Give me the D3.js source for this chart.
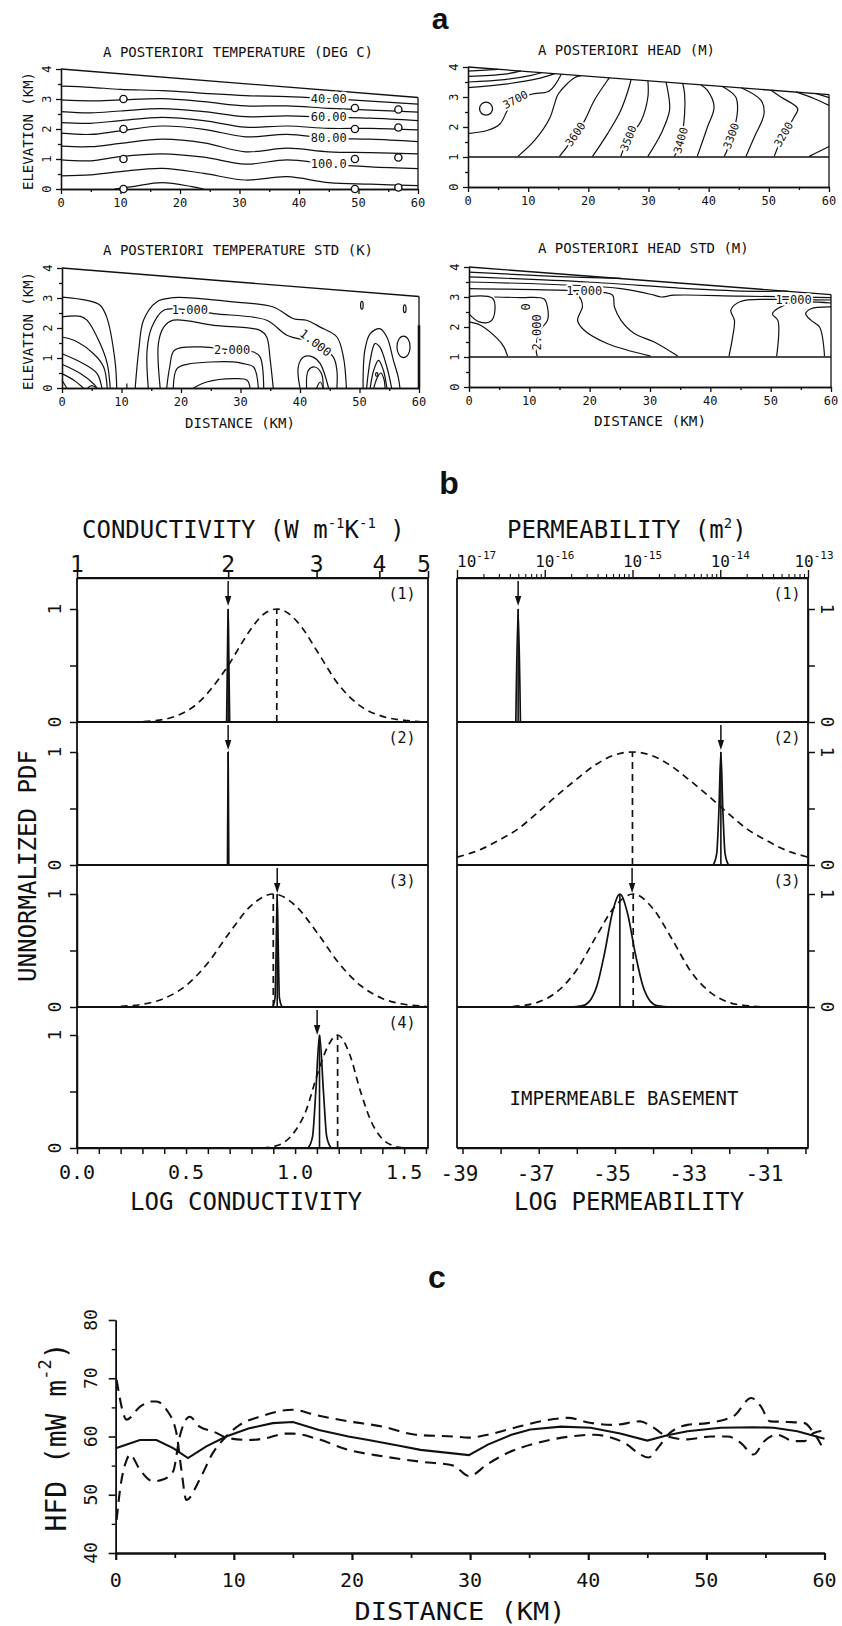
<!DOCTYPE html>
<html><head><meta charset="utf-8">
<script src="https://cdn.jsdelivr.net/npm/d3@7"></script>
<style>
body{margin:0;background:#fff;}
svg{display:block;background:#fff;}
text{font-family:"DejaVu Sans Mono",monospace;fill:#111;}
</style></head>
<body><svg id="c" width="842" height="1626"></svg>
<script>
// ================= DATA =================
// ---- panel a : common ----
const distTicks=[0,10,20,30,40,50,60];
const distMinor=[5,15,25,35,45,55];
const elevTicks=[0,1,2,3,4];
const elevMinor=[0.5,1.5,2.5,3.5];
const surfTemp=[[0,4.0],[60,3.05]];
const surfHead=[[0,4.0],[60,3.08]];

// ---- a1 : temperature contours (elevation km at each distance) ----
const tempXs=[0,5,10,17,24,31,38,45,52,60];
const tempLevels=[40,50,60,70,80,90,100,110];
const tempElev=[
 [3.43,3.39,3.32,3.28,3.19,3.11,3.08,3.01,2.93,2.83],
 [2.97,2.94,2.97,3.01,2.91,2.77,2.77,2.69,2.63,2.56],
 [2.58,2.54,2.60,2.68,2.58,2.41,2.44,2.39,2.36,2.28],
 [2.21,2.19,2.28,2.39,2.28,2.06,2.10,2.02,2.02,1.97],
 [1.86,1.82,1.94,2.10,1.99,1.74,1.82,1.69,1.66,1.58],
 [1.43,1.41,1.52,1.66,1.54,1.24,1.36,1.24,1.21,1.17],
 [0.97,0.94,1.08,1.17,1.06,0.83,0.97,0.83,0.74,0.68],
 [0.44,0.47,0.58,0.69,0.52,0.30,0.41,0.21,0.16,0.11]
];
const tempBump=[[9,0],[12,0.08],[17,0.21],[22,0.08],[24,0]];
const tempLabelText=["40.00","60.00","80.00","100.0"];
const tempLabelLevel=[0,2,4,6];
const tempLabelX=45;
const obsX=[10.5,49.4,56.7];
const obsZ=[[3,2,1,0],[2.7,2.0,1.0,0],[2.65,2.05,1.05,0.05]];

// ---- a2 : head contours ----
const headContours=[
 [[0,1.78],[3.3,1.89],[5.3,2.1],[6.4,2.5],[7.2,2.8],[10.5,3.09],[13.5,3.2],[15.5,3.76]],
 [[8.3,1.02],[11.1,1.56],[13.6,2.3],[14.4,2.78],[15.0,3.1],[17.7,3.64],[18.8,3.71]],
 [[15.2,1.02],[17.7,1.67],[19.4,2.22],[21.0,2.89],[23.2,3.56],[23.5,3.64]],
 [[20.7,1.02],[23.2,1.78],[25.4,2.56],[26.8,3.35],[27.1,3.59]],
 [[25.4,1.02],[26.5,1.56],[28.8,2.22],[29.9,3.0],[29.9,3.54]],
 [[29.9,1.02],[32.1,1.78],[33.5,2.56],[33.2,3.22],[32.9,3.5]],
 [[34.3,1.02],[35.4,1.56],[36.0,2.44],[36.0,3.11],[35.7,3.45]],
 [[38.1,1.02],[39.8,2.0],[40.9,2.67],[39.8,3.22],[38.7,3.41]],
 [[42.6,1.02],[43.7,1.56],[44.8,2.56],[44.5,3.0],[42.3,3.35]],
 [[46.2,1.02],[47.6,1.67],[49.2,2.44],[48.7,2.89],[45.4,3.31]],
 [[50.9,1.02],[52.0,1.56],[54.2,2.33],[54.8,2.61],[52.0,3.0],[50.3,3.23]],
 [[54.5,3.17],[57.5,2.95],[60,2.72]],
 [[57.8,3.12],[60,2.98]],
 [[56.7,1.02],[58.5,1.2],[60,1.35]],
 [[0,3.86],[5.0,3.92]],
 [[0,3.69],[6.1,3.76],[8.8,3.87]],
 [[0,3.5],[6.1,3.58],[10.5,3.72],[12.2,3.81]],
 [[0,3.31],[6.6,3.44],[11.6,3.61],[14.4,3.78]]
];
const headLabels=[
 {t:"3700",x:7.9,y:2.9,r:-28},{t:"3600",x:17.9,y:1.75,r:-55},
 {t:"3500",x:26.7,y:1.62,r:-68},{t:"3400",x:35.4,y:1.55,r:-74},
 {t:"3300",x:43.8,y:1.7,r:-70},{t:"3200",x:52.5,y:1.75,r:-60}
];
const headCircle=[3.0,2.61];

// ---- a3 : temperature std contours ----
const tstdContours=[
 [[0,3.03],[4.2,2.92],[6.4,2.76],[7.5,2.37],[8.9,0.92],[9.2,0]],
 [[0,2.37],[3.1,2.39],[4.2,2.26],[6.4,1.48],[7.6,0.81],[8.1,0]],
 [[0,1.7],[2,1.59],[5.3,1.14],[7,0.7],[7.6,0]],
 [[0,1.14],[3.6,0.81],[5.9,0.48],[6.7,0]],
 [[0,0.79],[3.1,0.48],[5.3,0.14],[5.9,0]],
 [[0,0.48],[2,0.26],[3.6,0]],
 [[0,0.26],[0.8,0]],
 [[4.3,0],[5,0.08],[5.8,0]],
 [[10.9,0],[10.9,0.15]],
 [[12.3,0],[12.9,1.26],[13.7,2.26],[15.9,2.87],[18.7,3.01],[23.2,2.98],[28.8,2.87],[35.5,2.7],[38.9,2.31],[41.1,2.26],[43.4,2.03],[46.2,1.7],[47.3,1.03],[47.8,0]],
 [[14.5,0],[14.3,1.26],[15.1,2.03],[17.1,2.59],[21.5,2.6],[25.5,2.48],[34.4,2.26],[37.8,1.76],[42.8,1.48],[45.6,1.03],[46.2,0.59],[46.2,0]],
 [[16.5,0],[16.2,1.48],[17.1,2.03],[18.7,2.26],[25.5,2.09],[33.3,1.92],[34.4,1.7],[35,0.92],[35.5,0]],
 [[17.6,0],[18.1,0.7],[18.9,1.26],[23.2,1.37],[28.8,1.26],[32.2,1.2],[33.3,1.03],[33.9,0]],
 [[18.7,0],[19.3,0.64],[21,0.79],[28.8,0.87],[30.5,0.81],[32.2,0.7],[33,0]],
 [[22.1,0],[24.3,0.2],[28.8,0.31],[31.1,0.26],[31.6,0]],
 [[40,0],[39.7,0.7],[40.6,1.03],[42.2,1.03],[43.4,0.81],[44.8,0]],
 [[41.1,0],[41.4,0.59],[42.5,0.7],[43.6,0.48],[43.9,0]],
 [[42.8,0],[43.4,0.2],[43.9,0]],
 [[50.6,0],[50.9,1.26],[51.8,1.81],[53.4,1.98],[54.6,1.7],[55.7,0.92],[56.5,0.37],[56.8,0]],
 [[51.2,0],[51.8,0.92],[52.6,1.48],[53.4,1.37],[54.6,0.7],[55.4,0]],
 [[51.8,0],[52.4,0.6],[53.2,0.92],[54,0.6],[54.6,0]],
 [[52.4,0],[53,0.35],[53.6,0.5],[54.1,0.3],[54.3,0]]
];
const tstdLoops=[
 {x:57.4,y:1.37,rx:1.1,ry:0.36},{x:50.4,y:2.76,rx:0.22,ry:0.13},
 {x:57.6,y:2.64,rx:0.22,ry:0.13},{x:52.9,y:0.45,rx:0.2,ry:0.06}
];
const tstdLabels=[
 {t:"1.000",x:21.5,y:2.6,r:0},{t:"1.000",x:42.6,y:1.5,r:38},{t:"2.000",x:28.6,y:1.27,r:0}
];

// ---- a4 : head std contours ----
const hstdContours=[
 [[0,3.83],[14.1,3.69],[25.2,3.62]],
 [[0,3.67],[19.6,3.5],[36.2,3.28],[47.3,3.19],[52.8,3.2]],
 [[0,3.5],[25.2,3.28],[30.7,3.06],[31.8,3.0],[34,3.06],[45,3.03],[60,2.98]],
 [[0,3.28],[16.3,3.22],[21.5,3.17],[23.8,3.06],[24.1,2.67],[25.2,2.22],[27.4,1.78],[30.7,1.5],[34.6,1.03]],
 [[0,3.02],[3.9,2.96],[4.3,2.56],[3.6,2.19],[1.7,2.17],[0,2.44]],
 [[4.2,3.0],[8.6,2.98],[12.4,2.94],[13.0,2.67],[13.0,2.22],[11.8,1.9],[11.1,1.33],[11.3,1.03]],
 [[0,2.17],[1.9,2.06],[4.7,1.61],[5.8,1.33],[6.4,1.03]],
 [[17.5,3.2],[18.6,2.9],[18.8,2.67],[18,2.22],[19.1,1.89],[23,1.44],[30.1,1.03]],
 [[60,2.9],[56,2.91],[50,2.92],[45,2.85],[43.4,2.56],[44,2.22],[43.7,1.67],[43.1,1.03]],
 [[60,2.8],[53,2.78],[50.3,2.44],[51.2,2.22],[51,1.03]],
 [[60,2.67],[56.7,2.61],[55.8,2.44],[56.7,2.22],[58.1,2.0],[58.9,1.11],[58.9,1.03]]
];
const hstdLabels=[
 {t:"1.000",x:19.1,y:3.21,r:0},{t:"1.000",x:53.8,y:2.91,r:0},
 {t:"0",x:9.4,y:2.67,r:-90},{t:"2.000",x:11.3,y:1.82,r:-90}
];

// ---- panel b ----
const condTopTicks=[1,2,3,4,5];
const permTopDecades=[1e-17,1e-16,1e-15,1e-14,1e-13];
const permTopExp=["-17","-16","-15","-14","-13"];
const logCondLabels=[0,0.5,1.0,1.5];
const logPermLabels=[-39,-37,-35,-33,-31];
const bandTags=["(1)","(2)","(3)","(4)"];

const condPrior1=[[0.25,0],[0.35,0.01],[0.45,0.05],[0.55,0.16],[0.65,0.38],[0.7,0.52],[0.75,0.68],[0.8,0.83],[0.86,0.96],[0.916,1.0],[0.97,0.96],[1.03,0.84],[1.1,0.63],[1.2,0.33],[1.3,0.14],[1.4,0.05],[1.5,0.015],[1.6,0]];
const condPost1=[[0.686,0],[0.690,0.6],[0.693,1],[0.696,0.6],[0.700,0]];
const condPost2=[[0.690,0],[0.693,1],[0.696,0]];
const condPrior3=[[0.2,0.006],[0.3,0.024],[0.4,0.076],[0.5,0.19],[0.6,0.39],[0.7,0.66],[0.8,0.9],[0.9,1],[1.0,0.9],[1.1,0.66],[1.2,0.39],[1.3,0.19],[1.4,0.076],[1.5,0.024],[1.6,0.006]];
const condPost3=[[0.898,0],[0.908,0.08],[0.913,0.5],[0.918,1],[0.923,0.5],[0.928,0.08],[0.94,0]];
const condPrior4=[[0.85,0],[0.9,0.012],[0.95,0.05],[1.0,0.15],[1.05,0.33],[1.1,0.64],[1.15,0.9],[1.195,1],[1.25,0.83],[1.3,0.5],[1.35,0.23],[1.4,0.08],[1.45,0.02],[1.5,0]];
const condPost4=[[1.06,0],[1.08,0.1],[1.095,0.5],[1.112,1.0],[1.13,0.5],[1.145,0.1],[1.165,0]];
const condPriors=[condPrior1,null,condPrior3,condPrior4];
const condPosts=[condPost1,condPost2,condPost3,condPost4];
const condTruth=[0.693,0.693,0.918,1.101];
const condPriorMean=[0.916,null,0.9,1.195];
const condPostMean=[0.693,0.693,0.918,1.112];

const permPost1=[[-37.6,0],[-37.54,1],[-37.48,0]];
const permPrior2=[[-39.14,0.07],[-38.54,0.135],[-38.04,0.22],[-37.54,0.32],[-37.04,0.46],[-36.54,0.61],[-36.04,0.75],[-35.54,0.88],[-35.04,0.97],[-34.54,1],[-34.04,0.97],[-33.54,0.88],[-33.04,0.75],[-32.54,0.61],[-32.04,0.46],[-31.54,0.32],[-31.04,0.22],[-30.54,0.135],[-29.94,0.07]];
const permPost2=[[-32.42,0],[-32.33,0.1],[-32.27,0.5],[-32.22,1],[-32.17,0.5],[-32.11,0.1],[-32.02,0]];
const permPrior3=[[-38,0],[-37.5,0.01],[-37,0.045],[-36.5,0.14],[-36,0.33],[-35.5,0.62],[-35,0.89],[-34.52,1.0],[-34,0.87],[-33.5,0.6],[-33,0.31],[-32.5,0.13],[-32,0.04],[-31.5,0.01],[-31,0]];
const permPost3=[[-36.2,0],[-35.87,0.01],[-35.67,0.05],[-35.47,0.19],[-35.27,0.48],[-35.07,0.83],[-34.87,1],[-34.67,0.83],[-34.47,0.48],[-34.27,0.19],[-34.07,0.05],[-33.87,0.01],[-33.5,0]];
const permPriors=[null,permPrior2,permPrior3,null];
const permPosts=[permPost1,permPost2,permPost3,null];
const permTruth=[-37.54,-32.22,-34.55,null];
const permPriorMean=[null,-34.54,-34.52,null];
const permPostMean=[-37.54,-32.22,-34.87,null];

// ---- panel c : heat flow density ----
const hfdTicks=[40,50,60,70,80];
const hfdMinor=[45,55,65,75];
const hfdMeanX=[0,2.05,3.45,4.86,6.12,7.67,9.35,11.3,13.3,15.0,17.2,19.7,21.4,24.0,25.8,29.9,31.5,33.5,35.1,37.7,40.2,42.7,45.0,46.7,48.4,51.2,54.0,55.7,57.7,60.0];
const hfdMean =[58.0,59.4,59.4,58.0,56.3,58.3,60.0,61.4,62.3,62.5,61.1,60.0,59.4,58.4,57.7,56.8,58.6,60.3,61.2,61.7,61.5,60.5,59.3,60.2,60.9,61.5,61.6,61.5,60.9,59.6];
const hfdAX=[0.08,0.93,2.05,3.0,3.45,4.3,5.14,5.56,5.98,7.1,8.2,9.35,10.5,12.2,15.0,16.9,19.7,22.6,25.4,28.6,29.9,31.5,34.3,37.1,38.3,40.0,42.2,44.4,45.3,46.7,48.4,50.4,51.8,52.9,54.0,54.9,56.0,57.4,58.3,59.1,60.0];
const hfdA =[69.7,62.9,65.1,66.0,66.0,64.6,60.6,54.3,49.1,52.6,57.1,60.0,62.0,63.4,64.6,63.7,62.6,61.7,60.3,60.0,59.8,60.3,61.8,63.0,63.2,62.4,62.0,62.6,61.8,60.0,59.5,60.0,60.0,58.9,56.9,59.2,60.3,59.2,59.2,60.6,61.0];
const hfdBX=[0.08,0.37,0.93,1.2,2.05,3.17,4.0,4.86,5.42,6.26,7.1,8.2,9.6,11.3,12.7,14.4,15.0,16.9,19.7,22.6,25.7,28.6,29.9,31.5,33.2,35.7,38.5,40.5,41.6,43.3,44.2,45.1,46.0,46.7,48.4,50.1,52.3,53.8,54.6,55.4,56.9,58.3,59.1,60.0];
const hfdB =[45.7,50.9,56.0,56.9,54.3,52.3,52.6,54.0,60.0,63.4,61.7,60.9,59.7,59.4,59.7,60.5,60.5,59.7,57.7,56.6,55.7,55.0,53.2,55.3,57.2,58.9,60.0,60.3,60.0,58.6,57.2,56.4,58.3,60.2,62.0,62.3,63.5,66.6,65.2,62.6,62.5,62.3,60.6,57.5];

// ================= DRAWING =================
const ink="#111";
const svg=d3.select("#c");
svg.append("rect").attr("width",842).attr("height",1626).attr("fill","#fff");

function label(g,x,y,s,o={}){
  const t=g.append("text").attr("x",x).attr("y",y).text(s)
    .attr("font-size",o.size||14).attr("text-anchor",o.anchor||"middle");
  if(o.db) t.attr("dominant-baseline",o.db);
  if(o.rot) t.attr("transform",`rotate(${o.rot},${x},${y})`);
  if(o.len) t.attr("textLength",o.len).attr("lengthAdjust","spacingAndGlyphs");
  if(o.weight) t.attr("font-weight",o.weight);
  if(o.family) t.style("font-family",o.family);
  if(o.halo) t.attr("stroke","#fff").attr("stroke-width",o.halo).attr("paint-order","stroke").attr("stroke-linejoin","round");
  return t;
}
function styleAxis(sel,w){ sel.selectAll(".domain,.tick line").attr("stroke",ink).attr("stroke-width",w||1.3); sel.selectAll("text").remove(); }

// ---------- panel a ----------
function elevFrame(box,surf,withBase){
  const sx=d3.scaleLinear([0,60],[box.l,box.r]);
  const sy=d3.scaleLinear([0,4],[box.b,box.t]);
  const g=svg.append("g");
  const a1=g.append("g").attr("transform",`translate(0,${box.b})`).call(d3.axisBottom(sx).tickValues(distTicks).tickSize(5).tickSizeOuter(0));
  const a2=g.append("g").attr("transform",`translate(0,${box.b})`).call(d3.axisBottom(sx).tickValues(distMinor).tickSize(3).tickSizeOuter(0));
  const a3=g.append("g").attr("transform",`translate(${box.l},0)`).call(d3.axisLeft(sy).tickValues(elevTicks).tickSize(5).tickSizeOuter(0));
  const a4=g.append("g").attr("transform",`translate(${box.l},0)`).call(d3.axisLeft(sy).tickValues(elevMinor).tickSize(3).tickSizeOuter(0));
  [a1,a2,a3,a4].forEach(a=>styleAxis(a,1.3));
  distTicks.forEach(v=>label(g,sx(v),box.b+18,String(v),{size:12}));
  elevTicks.forEach(v=>label(g,box.l-14,sy(v),String(v),{size:12,rot:-90,db:"central"}));
  const ln=d3.line().x(d=>sx(d[0])).y(d=>sy(d[1]));
  g.append("path").datum(surf).attr("d",ln).attr("fill","none").attr("stroke",ink).attr("stroke-width",1.3);
  g.append("line").attr("x1",sx(60)).attr("x2",sx(60)).attr("y1",sy(0)).attr("y2",sy(surf[1][1])).attr("stroke",ink).attr("stroke-width",1.3);
  if(withBase) g.append("line").attr("x1",sx(0)).attr("x2",sx(60)).attr("y1",sy(1)).attr("y2",sy(1)).attr("stroke",ink).attr("stroke-width",1.3);
  return {g,sx,sy};
}
function contourLines(P,lines){
  const ln=d3.line().x(d=>P.sx(d[0])).y(d=>P.sy(d[1])).curve(d3.curveCatmullRom.alpha(0.5));
  P.g.append("g").selectAll("path").data(lines).join("path").attr("d",ln)
    .attr("fill","none").attr("stroke",ink).attr("stroke-width",1.2);
}
function contourLabels(P,labs,size){
  labs.forEach(L=>label(P.g,P.sx(L.x),P.sy(L.y),L.t,{size:size||11,rot:L.r,db:"central",halo:4}));
}

// a1 temperature
const A1=elevFrame({l:61,r:418,b:189,t:69},surfTemp,false);
contourLines(A1,tempElev.map(row=>row.map((z,j)=>[tempXs[j],z])));
contourLines(A1,[tempBump]);
tempLabelText.forEach((t,i)=>{
  const lev=tempLabelLevel[i], j=tempXs.indexOf(tempLabelX);
  label(A1.g,A1.sx(tempLabelX),A1.sy(tempElev[lev][j]),t,{size:12,db:"central",halo:5});
});
obsX.forEach((x,i)=>obsZ[i].forEach(z=>{
  A1.g.append("circle").attr("cx",A1.sx(x)).attr("cy",A1.sy(z)).attr("r",3.6)
   .attr("fill","#fff").attr("stroke",ink).attr("stroke-width",1.4);
}));
label(svg,103,57,"A POSTERIORI TEMPERATURE (DEG C)",{size:14,anchor:"start",len:270});
label(svg,28,131,"ELEVATION (KM)",{size:14,rot:-90,db:"central",len:118});

// a2 head
const A2=elevFrame({l:468,r:829,b:187,t:67},surfHead,true);
contourLines(A2,headContours);
A2.g.append("circle").attr("cx",A2.sx(headCircle[0])).attr("cy",A2.sy(headCircle[1])).attr("r",6.5)
  .attr("fill","none").attr("stroke",ink).attr("stroke-width",1.3);
contourLabels(A2,headLabels,11);
label(svg,538,55,"A POSTERIORI HEAD (M)",{size:14,anchor:"start"});

// a3 temperature std
const A3=elevFrame({l:62,r:419,b:388,t:268},surfTemp,false);
contourLines(A3,tstdContours);
tstdLoops.forEach(o=>A3.g.append("ellipse").attr("cx",A3.sx(o.x)).attr("cy",A3.sy(o.y))
  .attr("rx",A3.sx(o.rx)-A3.sx(0)).attr("ry",A3.sy(0)-A3.sy(o.ry))
  .attr("fill","none").attr("stroke",ink).attr("stroke-width",1.2));
A3.g.append("line").attr("x1",A3.sx(60)).attr("x2",A3.sx(60)).attr("y1",A3.sy(0)).attr("y2",A3.sy(2.09)).attr("stroke",ink).attr("stroke-width",2.6);
contourLabels(A3,tstdLabels,12);
label(svg,103,255,"A POSTERIORI TEMPERATURE STD (K)",{size:14,anchor:"start",len:270});
label(svg,28,331,"ELEVATION (KM)",{size:14,rot:-90,db:"central",len:118});
label(svg,240,428,"DISTANCE (KM)",{size:14,len:110});

// a4 head std
const A4=elevFrame({l:469,r:831,b:387,t:267},surfHead,true);
contourLines(A4,hstdContours);
contourLabels(A4,hstdLabels,12);
label(svg,538,253,"A POSTERIORI HEAD STD (M)",{size:14,anchor:"start"});
label(svg,650,426,"DISTANCE (KM)",{size:14,len:112});

label(svg,440,18,"a",{size:30,weight:"bold",db:"central",family:"'Liberation Sans',Arial,sans-serif"});

// ---------- panel b ----------
label(svg,449,483,"b",{size:32,weight:"bold",db:"central",family:"'Liberation Sans',Arial,sans-serif"});
const bandTop=[578,722,865,1007], bandBot=[722,865,1007,1148];
const unitPx=113;
const cx=d3.scaleLinear([0,1.6094],[77,428]);
const cTop=d3.scaleLog([1,5],[77,428]);
const px=d3.scaleLinear([-39.144,-29.934],[457,808]);
const pTop=d3.scaleLog([1e-17,1e-13],[457,808]);
const B=svg.append("g");

function vline(g,x,y1,y2,w){g.append("line").attr("x1",x).attr("x2",x).attr("y1",y1).attr("y2",y2).attr("stroke",ink).attr("stroke-width",w||1.6);}
function hline(g,x1,x2,y,w){g.append("line").attr("x1",x1).attr("x2",x2).attr("y1",y).attr("y2",y).attr("stroke",ink).attr("stroke-width",w||1.6);}

// frames
[[77,428],[457,808]].forEach(([l,r])=>{
  vline(B,l,578,1148,1.8); vline(B,r,578,1148,1.8);
  hline(B,l,r,578,1.8);
  bandBot.forEach(y=>hline(B,l,r,y,1.8));
});
// top axes
const tc=B.append("g").attr("transform","translate(0,578)").call(d3.axisTop(cTop).tickValues(condTopTicks).tickSize(7).tickSizeOuter(0));
styleAxis(tc,1.6);
condTopTicks.forEach(v=>label(B,cTop(v)-(v===5?4:0),572,String(v),{size:23}));
const permMinor=[];
[1e-17,1e-16,1e-15,1e-14].forEach(d=>[2,3,4,5,6,7,8,9].forEach(m=>permMinor.push(m*d)));
const tp1=B.append("g").attr("transform","translate(0,578)").call(d3.axisTop(pTop).tickValues(permTopDecades).tickSize(8).tickSizeOuter(0));
const tp2=B.append("g").attr("transform","translate(0,578)").call(d3.axisTop(pTop).tickValues(permMinor).tickSize(4).tickSizeOuter(0));
styleAxis(tp1,1.4); styleAxis(tp2,1.1);
// "10" centred on the tick, except the two end labels kept inside the frame
const permLabelShift=[9.6,0,0,0,-4];
permTopDecades.forEach((v,i)=>{
  const t=B.append("text").attr("x",pTop(v)-9.6+permLabelShift[i]).attr("y",567).attr("text-anchor","start").attr("font-size",16);
  t.append("tspan").text("10");
  t.append("tspan").attr("dy",-8).attr("font-size",11).text(permTopExp[i]);
});
// bottom axes
const bc=B.append("g").attr("transform","translate(0,1148)").call(d3.axisBottom(cx).tickValues(d3.range(0,1.65,0.1)).tickSize(6).tickSizeOuter(0));
styleAxis(bc,1.5);
logCondLabels.forEach(v=>label(B,cx(v),1179,v.toFixed(1),{size:20}));
const bp=B.append("g").attr("transform","translate(0,1148)").call(d3.axisBottom(px).tickValues(d3.range(-39,-29,1)).tickSize(6).tickSizeOuter(0));
styleAxis(bp,1.5);
logPermLabels.forEach(v=>label(B,px(v)-3,1181,String(v),{size:21}));
label(B,246,1210,"LOG CONDUCTIVITY",{size:24,len:232});
label(B,629,1210,"LOG PERMEABILITY",{size:24,len:230});
label(B,28,866,"UNNORMALIZED PDF",{size:24,rot:-90,db:"central",len:232});
// titles
{
  const t=B.append("text").attr("x",82).attr("y",538).attr("font-size",24);
  t.append("tspan").text("CONDUCTIVITY (W  m");
  t.append("tspan").attr("dy",-10).attr("font-size",14).text("-1");
  t.append("tspan").attr("dy",10).text("K");
  t.append("tspan").attr("dy",-10).attr("font-size",14).text("-1");
  t.append("tspan").attr("dy",10).text(" )");
  const u=B.append("text").attr("x",507).attr("y",538).attr("font-size",24);
  u.append("tspan").text("PERMEABILITY (m");
  u.append("tspan").attr("dy",-10).attr("font-size",14).text("2");
  u.append("tspan").attr("dy",10).text(")");
}
// bands
const dashed="7,5";
function arrow(g,x,top){
  vline(g,x,top+3,top+22,1.5);
  g.append("path").attr("d",`M${x-3.2},${top+18} L${x+3.2},${top+18} L${x},${top+28} Z`).attr("fill",ink);
}
for(let i=0;i<4;i++){
  const sy=d3.scaleLinear([0,1],[bandBot[i],bandBot[i]-unitPx]);
  const ly=B.append("g").attr("transform","translate(77,0)").call(d3.axisLeft(sy).tickValues([0,0.5,1]).tickSize(7).tickSizeOuter(0));
  styleAxis(ly,1.5);
  label(B,54,sy(1),"1",{size:18,rot:-90,db:"central"});
  label(B,54,sy(0),"0",{size:18,rot:-90,db:"central"});
  label(B,402,bandTop[i]+21,bandTags[i],{size:15});
  const lc=d3.line().x(d=>cx(d[0])).y(d=>sy(d[1])).curve(d3.curveMonotoneX);
  if(condPriors[i]){
    B.append("path").datum(condPriors[i]).attr("d",lc).attr("fill","none").attr("stroke",ink).attr("stroke-width",1.7).attr("stroke-dasharray",dashed);
    B.append("line").attr("x1",cx(condPriorMean[i])).attr("x2",cx(condPriorMean[i])).attr("y1",sy(0)).attr("y2",sy(1))
      .attr("stroke",ink).attr("stroke-width",1.7).attr("stroke-dasharray",dashed);
  }
  B.append("path").datum(condPosts[i]).attr("d",lc).attr("fill","none").attr("stroke",ink).attr("stroke-width",1.7);
  vline(B,cx(condPostMean[i]),sy(0),sy(1),1.6);
  arrow(B,cx(condTruth[i]),bandTop[i]);
  if(i<3){
    const ry=B.append("g").attr("transform","translate(808,0)").call(d3.axisRight(sy).tickValues([0,0.5,1]).tickSize(7).tickSizeOuter(0));
    styleAxis(ry,1.5);
    label(B,827,sy(1),"1",{size:18,rot:90,db:"central"});
    label(B,827,sy(0),"0",{size:18,rot:90,db:"central"});
    label(B,787,bandTop[i]+21,bandTags[i],{size:15});
    const lp=d3.line().x(d=>px(d[0])).y(d=>sy(d[1])).curve(d3.curveMonotoneX);
    if(permPriors[i]){
      B.append("path").datum(permPriors[i]).attr("d",lp).attr("fill","none").attr("stroke",ink).attr("stroke-width",1.7).attr("stroke-dasharray",dashed);
      B.append("line").attr("x1",px(permPriorMean[i])).attr("x2",px(permPriorMean[i])).attr("y1",sy(0)).attr("y2",sy(1))
        .attr("stroke",ink).attr("stroke-width",1.7).attr("stroke-dasharray",dashed);
    }
    B.append("path").datum(permPosts[i]).attr("d",lp).attr("fill","none").attr("stroke",ink).attr("stroke-width",1.7);
    vline(B,px(permPostMean[i]),sy(0),sy(1),1.6);
    arrow(B,px(permTruth[i]),bandTop[i]);
  }
}
label(B,624,1105,"IMPERMEABLE BASEMENT",{size:19,len:229});

// ---------- panel c ----------
label(svg,437,1277,"c",{size:32,weight:"bold",db:"central",family:"'Liberation Sans',Arial,sans-serif"});
const C=svg.append("g");
const hx=d3.scaleLinear([0,60],[115.7,824.5]);
const hy=d3.scaleLinear([40,80],[1553,1320]);
const cxA=C.append("g").attr("transform","translate(0,1553)").call(d3.axisBottom(hx).tickValues(distTicks).tickSize(7).tickSizeOuter(0));
const cxB=C.append("g").attr("transform","translate(0,1553)").call(d3.axisBottom(hx).tickValues(distMinor).tickSize(5).tickSizeOuter(0));
const cyA=C.append("g").attr("transform","translate(115.7,0)").call(d3.axisLeft(hy).tickValues(hfdTicks).tickSize(7).tickSizeOuter(0));
const cyB=C.append("g").attr("transform","translate(115.7,0)").call(d3.axisLeft(hy).tickValues(hfdMinor).tickSize(4).tickSizeOuter(0));
styleAxis(cxA,2.2); styleAxis(cxB,1.8); styleAxis(cyA,1.6); styleAxis(cyB,1.4);
distTicks.forEach(v=>label(C,hx(v),1587,String(v),{size:20}));
hfdTicks.forEach(v=>label(C,90,hy(v),String(v),{size:18,rot:-90,db:"central"}));
label(C,460,1620,"DISTANCE (KM)",{size:24,len:211});
{
  const t=C.append("text").attr("x",56).attr("y",1437).attr("font-size",28).attr("text-anchor","middle")
    .attr("dominant-baseline","central").attr("transform","rotate(-90,56,1437)");
  t.append("tspan").text("HFD (mW m");
  t.append("tspan").attr("dy",-11).attr("font-size",17).text("-2");
  t.append("tspan").attr("dy",11).text(")");
}
const hl=d3.line().x(d=>hx(d[0])).y(d=>hy(d[1]));
C.append("path").datum(hfdMeanX.map((x,i)=>[x,hfdMean[i]])).attr("d",hl).attr("fill","none").attr("stroke",ink).attr("stroke-width",2.1);
C.append("path").datum(hfdAX.map((x,i)=>[x,hfdA[i]])).attr("d",hl.curve(d3.curveMonotoneX)).attr("fill","none").attr("stroke",ink).attr("stroke-width",2.1).attr("stroke-dasharray","11,7");
C.append("path").datum(hfdBX.map((x,i)=>[x,hfdB[i]])).attr("d",hl.curve(d3.curveMonotoneX)).attr("fill","none").attr("stroke",ink).attr("stroke-width",2.1).attr("stroke-dasharray","11,7");
</script>
</body></html>
